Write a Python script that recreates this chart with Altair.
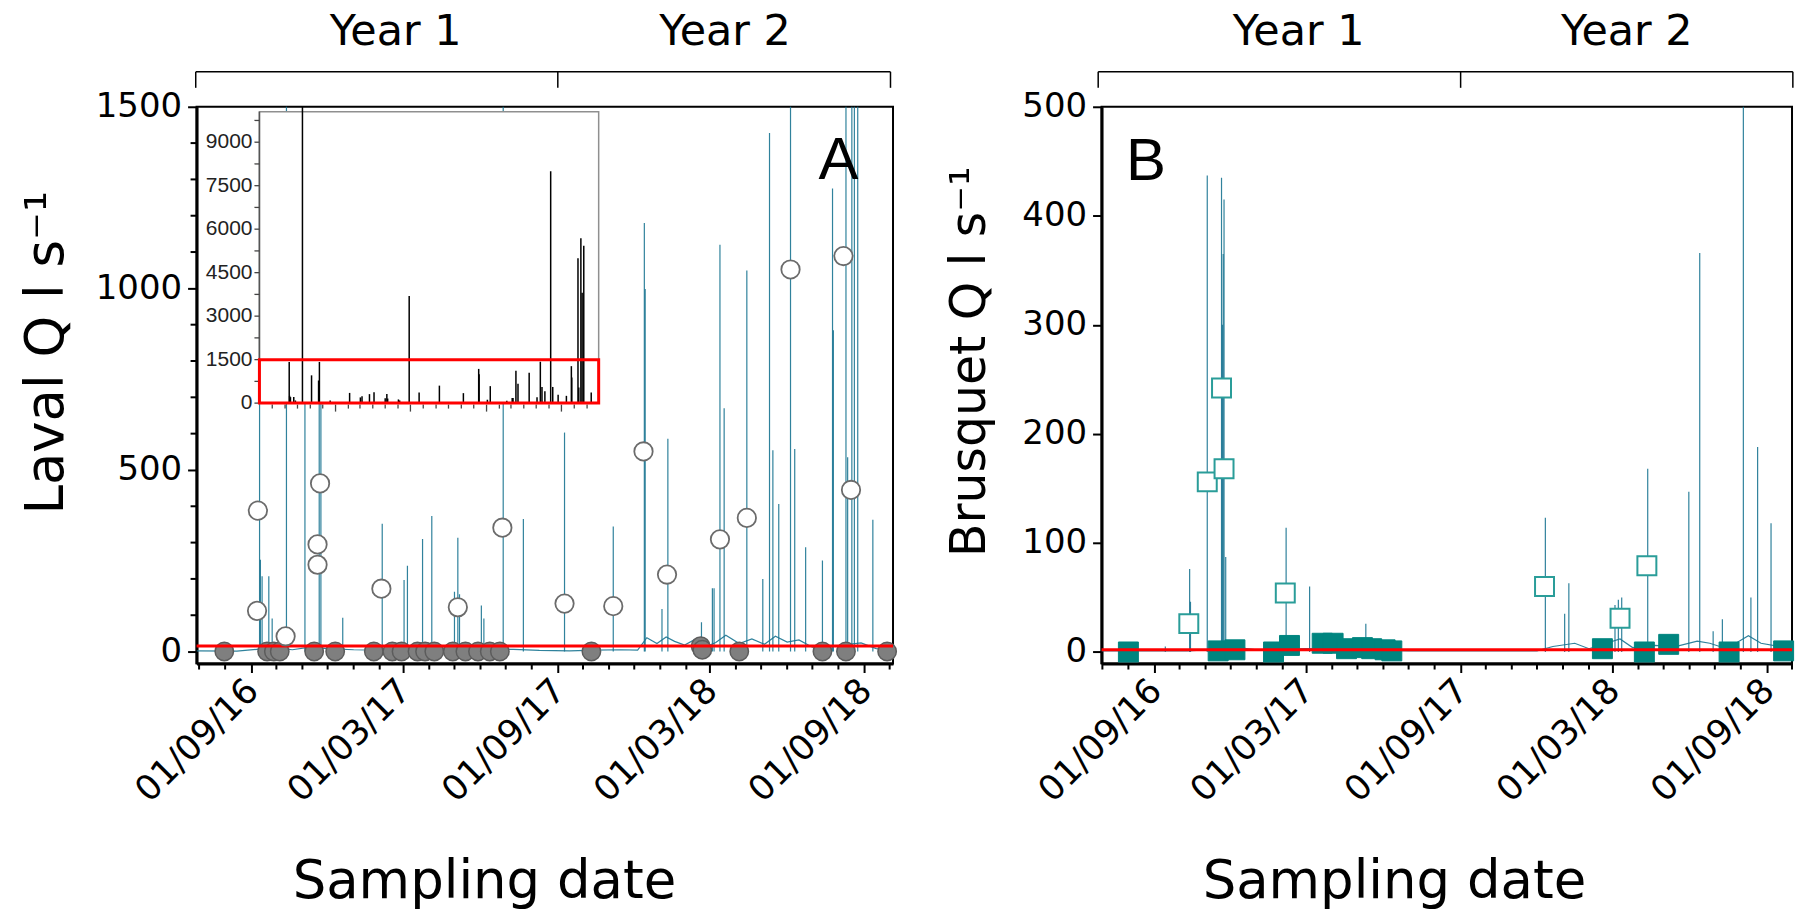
import altair as alt
import pandas as pd

# ---------------- Panel A : Laval ----------------
laval_spike_dates = ['2016-09-11', '2016-09-12', '2016-09-14', '2016-09-22', '2016-09-26', '2016-10-13',
                     '2016-11-04', '2016-11-21', '2016-11-23', '2016-12-19', '2017-02-04', '2017-03-02',
                     '2017-03-06', '2017-03-24', '2017-04-04', '2017-05-01', '2017-05-05', '2017-05-07',
                     '2017-06-02', '2017-06-05', '2017-06-28', '2017-07-22', '2017-09-09', '2017-11-06',
                     '2017-12-13', '2017-12-14', '2018-01-03', '2018-01-10', '2018-02-19', '2018-03-04',
                     '2018-03-06', '2018-03-13', '2018-03-18', '2018-04-14', '2018-05-03', '2018-05-11',
                     '2018-05-15', '2018-05-22', '2018-06-05', '2018-06-10', '2018-06-23', '2018-07-13',
                     '2018-07-25', '2018-07-26', '2018-08-10', '2018-08-12', '2018-08-17', '2018-08-20',
                     '2018-08-24', '2018-09-11']
laval_spike_q = [1420, 253, 207, 207, 91, 10500,
                 958, 780, 1420, 93, 352, 197,
                 236, 310, 373, 165, 313, 158,
                 127, 91, 3693, 365, 603, 344,
                 1180, 998, 117, 586, 81, 174,
                 174, 1120, 670, 1049, 200, 1428,
                 554, 406, 7997, 558, 287, 251,
                 1275, 885, 4997, 535, 5689, 3808,
                 5424, 363]

laval_base_dates = ['2016-06-28', '2016-08-15', '2016-09-08', '2016-09-30', '2016-10-20', '2016-11-10',
                    '2016-12-01', '2017-01-01', '2017-02-01', '2017-03-10', '2017-04-10', '2017-05-10',
                    '2017-06-10', '2017-07-10', '2017-08-10', '2017-09-15', '2017-10-15', '2017-11-15',
                    '2017-12-05', '2017-12-16', '2017-12-28', '2018-01-08', '2018-01-18', '2018-01-30',
                    '2018-02-10', '2018-02-25', '2018-03-08', '2018-03-20', '2018-04-05', '2018-04-20',
                    '2018-05-05', '2018-05-18', '2018-06-01', '2018-06-15', '2018-07-01', '2018-07-18',
                    '2018-08-05', '2018-08-28', '2018-09-15', '2018-10-05']
laval_base_q = [2, 1, 6, 10, 5, 12, 8, 5, 4, 9, 10, 7, 5, 6, 3, 2, 4, 5, 4, 38,
                22, 40, 28, 18, 32, 14, 25, 45, 22, 35, 20, 42, 26, 32, 12, 10, 18, 24, 8, 4]

laval_open_dates = ['2016-09-09', '2016-09-08', '2016-10-12', '2016-11-22', '2016-11-19', '2016-11-19',
                    '2017-02-03', '2017-05-05', '2017-06-27', '2017-09-09', '2017-11-06', '2017-12-12',
                    '2018-01-09', '2018-03-13', '2018-04-14', '2018-06-05', '2018-08-07', '2018-08-16']
laval_open_q = [388, 112, 42, 463, 295, 239, 173, 122, 341, 132, 125, 551, 212, 309, 368, 1052, 1089, 445]

laval_low_dates = ['2016-07-31', '2016-09-20', '2016-09-28', '2016-10-05', '2016-11-15', '2016-12-10',
                   '2017-01-25', '2017-02-16', '2017-02-27', '2017-03-18', '2017-03-27', '2017-04-07',
                   '2017-04-29', '2017-05-14', '2017-05-29', '2017-06-12', '2017-06-24', '2017-10-11',
                   '2018-02-18', '2018-02-20', '2018-04-05', '2018-07-13', '2018-08-10', '2018-09-28']
laval_low_q = [0, 0, 0, 0, 0, 0, 0, 0, 0, 0, 0, 0, 0, 0, 0, 0, 0, 0, 15, 5, 0, 0, 0, 0]
laval_threshold = [15]

# ---------------- Panel B : Brusquet ----------------
brusquet_spike_dates = ['2016-09-14', '2016-10-13', '2016-10-14', '2016-11-03', '2016-11-20', '2016-11-21',
                        '2016-11-22', '2016-11-23', '2016-11-25', '2017-02-05', '2017-03-05', '2017-05-11',
                        '2017-12-11', '2018-01-03', '2018-01-08', '2018-03-04', '2018-03-08', '2018-03-12',
                        '2018-04-12', '2018-05-31', '2018-06-13', '2018-06-29', '2018-07-10', '2018-08-04',
                        '2018-08-13', '2018-08-21', '2018-09-06']
brusquet_spike_q = [5, 76, 46, 437, 435, 300, 365, 415, 87, 114, 60, 26, 123, 35, 63, 43, 48, 50,
                    168, 147, 366, 19, 30, 520, 50, 188, 118]

brusquet_base_dates = ['2016-06-30', '2016-09-01', '2016-10-10', '2016-11-01', '2016-12-01', '2017-01-01',
                       '2017-03-01', '2017-05-01', '2017-07-01', '2017-12-01', '2017-12-20', '2018-01-15',
                       '2018-02-01', '2018-03-10', '2018-03-25', '2018-04-20', '2018-05-15', '2018-06-10',
                       '2018-06-25', '2018-07-15', '2018-08-10', '2018-08-25', '2018-10-01']
brusquet_base_q = [1, 1, 1, 2, 5, 2, 3, 2, 1, 1, 5, 8, 3, 12, 4, 6, 5, 10, 8, 3, 15, 8, 3]

brusquet_open_dates = ['2016-10-12', '2016-11-03', '2016-11-20', '2016-11-23', '2017-02-04', '2017-12-10',
                       '2018-03-10', '2018-04-11']
brusquet_open_q = [26, 156, 242, 168, 54, 60, 31, 79]

brusquet_low_dates = ['2016-08-01', '2016-11-16', '2016-12-06', '2017-01-21', '2017-02-09', '2017-03-20',
                      '2017-04-02', '2017-04-18', '2017-05-07', '2017-05-18', '2017-06-03', '2017-06-11',
                      '2018-02-17', '2018-04-08', '2018-05-07', '2018-07-18', '2018-09-21']
brusquet_low_q = [0, 1, 2, 0, 6, 8, 8, 3, 4, 3, 2, 1, 3, 0, 7, 0, 1]
brusquet_threshold = [2]

# ---------------- axes / annotation values ----------------
major_tick_dates = ['2016-09-01', '2017-03-01', '2017-09-01', '2018-03-01', '2018-09-01']
minor_tick_dates = ['2016-07-01', '2016-08-01', '2016-10-01', '2016-11-01', '2016-12-01', '2017-01-01',
                    '2017-02-01', '2017-04-01', '2017-05-01', '2017-06-01', '2017-07-01', '2017-08-01',
                    '2017-10-01', '2017-11-01', '2017-12-01', '2018-01-01', '2018-02-01', '2018-04-01',
                    '2018-05-01', '2018-06-01', '2018-07-01', '2018-08-01', '2018-10-01']
laval_y_ticks = [0, 500, 1000, 1500]
laval_y_minor = [100, 200, 300, 400, 600, 700, 800, 900, 1100, 1200, 1300, 1400]
brusquet_y_ticks = [0, 100, 200, 300, 400, 500]

year_labels = ['Year 1', 'Year 2']
laval_year_dates = ['2017-02-20', '2018-03-19']
brusquet_year_dates = ['2017-02-20', '2018-03-18']
laval_bracket_dates = ['2016-06-27', '2017-09-01', '2018-10-02']
brusquet_bracket_dates = ['2016-06-26', '2017-09-01', '2018-10-02']

laval_domain_x = ['2016-06-28', '2018-10-05']
laval_domain_y = [-33, 1500]
brusquet_domain_x = ['2016-06-30', '2018-10-01']
brusquet_domain_y = [-10.6, 500]

# inset (full-range Laval hydrograph)
inset_domain_x = ['2016-07-01', '2018-09-29']
inset_domain_y = [0, 10050]
inset_y_major = [0, 1500, 3000, 4500, 6000, 7500, 9000]
inset_y_minor = [750, 2250, 3750, 5250, 6750, 8250, 9750]
inset_x_major = ['2017-01-01', '2017-07-01', '2018-01-01', '2018-07-01']
inset_x_minor = ['2016-08-01', '2016-09-01', '2016-10-01', '2016-11-01', '2016-12-01', '2017-02-01',
                 '2017-03-01', '2017-04-01', '2017-05-01', '2017-06-01', '2017-08-01', '2017-09-01',
                 '2017-10-01', '2017-11-01', '2017-12-01', '2018-02-01', '2018-03-01', '2018-04-01',
                 '2018-05-01', '2018-06-01', '2018-08-01', '2018-09-01']
inset_zoom_box = [0, 1500]

# panel letters (data coordinates)
letter_A = ('2018-08-01', 1300)
letter_B = ('2016-08-22', 433)

# ---------------- styling ----------------
A_W, A_H = 698, 558
B_W, B_H = 692, 558
INSET_RANGE_X = [63, 403]
INSET_RANGE_Y = [297, 5]
LINE = '#1a7491'
FONT = 'DejaVu Sans'


def dt(s):
    y, m, d = (int(v) for v in s.split('-'))
    return alt.DateTime(year=y, month=m, date=d, utc=True)


def xscale(dom, rng=None):
    kw = dict(type='utc', domain=[dt(dom[0]), dt(dom[1])], nice=False)
    if rng is not None:
        kw['range'] = rng
    return alt.Scale(**kw)


def x_axis(title_x):
    return alt.Axis(values=[dt(d) for d in major_tick_dates],
                    labelExpr="utcFormat(datum.value, '%d/%m/%y')",
                    labelAngle=315, labelAlign='right', labelBaseline='top', labelOffset=-11,
                    labelPadding=0, labelFont=FONT, labelFontSize=35, labelColor='black',
                    labelLimit=0, labelOverlap=False, labelFlush=False, tickSize=9, tickWidth=2,
                    tickColor='black', domainWidth=3, domainColor='black', grid=False,
                    title='Sampling date', titleFont=FONT, titleFontSize=53, titleFontWeight='normal',
                    titleColor='black', titleX=title_x, titleY=234, titleAlign='center',
                    titleBaseline='alphabetic')


def y_axis(values, title, title_x, title_y, title_size):
    return alt.Axis(values=values, format='d', labelFont=FONT, labelFontSize=34, labelColor='black',
                    labelPadding=6, labelFlush=False, labelOverlap=False, tickSize=9, tickWidth=2,
                    tickColor='black', domainWidth=3, domainColor='black', grid=False,
                    title=title, titleFont=FONT, titleFontSize=title_size, titleFontWeight='normal',
                    titleColor='black', titleAngle=270, titleX=title_x, titleY=title_y,
                    titleAlign='center', titleBaseline='alphabetic')


def main_panel(spk_d, spk_q, base_d, base_q, open_d, open_q, low_d, low_q, thr, dom_x, dom_y,
               yticks, yminor, ytitle, ytitle_x, ytitle_y, ytitle_size, xtitle_x, bracket_d, year_d,
               letter, letter_text, H, marker):
    xs = xscale(dom_x)
    ys = alt.Scale(domain=dom_y, nice=False, zero=False)
    xax = x_axis(xtitle_x)
    yax = y_axis(yticks, ytitle, ytitle_x, ytitle_y, ytitle_size)
    X = lambda f: alt.X(f, type='temporal', scale=xs, axis=xax)
    Y = lambda f: alt.Y(f, type='quantitative', scale=ys, axis=yax)

    base = alt.Chart(pd.DataFrame({'date': base_d, 'q': base_q})).mark_line(
        color=LINE, strokeWidth=1.2, opacity=0.9, clip=True).encode(x=X('date'), y=Y('q'))
    spikes = alt.Chart(pd.DataFrame({'date': spk_d, 'q': spk_q})).mark_rule(
        color=LINE, strokeWidth=1.2, opacity=0.9, clip=True).encode(
        x=X('date'), y=Y('q'), y2=alt.datum(0))
    xminor = alt.Chart(pd.DataFrame({'date': minor_tick_dates})).mark_tick(
        orient='vertical', size=6, thickness=2, color='black', opacity=1).encode(
        x=X('date'), y=alt.value(H + 3))
    layers = [base, spikes, xminor]
    if yminor:
        yminor_l = alt.Chart(pd.DataFrame({'q': yminor})).mark_tick(
            orient='horizontal', size=6, thickness=2, color='black', opacity=1).encode(
            y=Y('q'), x=alt.value(-3))
        layers.append(yminor_l)

    if marker == 'circle':
        low = alt.Chart(pd.DataFrame({'date': low_d, 'q': low_q})).mark_point(
            shape='circle', filled=True, fill='#7f7f7f', stroke='#5c5c5c', strokeWidth=1.5,
            size=340, opacity=1).encode(x=X('date'), y=Y('q'))
        opn = alt.Chart(pd.DataFrame({'date': open_d, 'q': open_q})).mark_point(
            shape='circle', filled=True, fill='white', stroke='#6b6b6b', strokeWidth=1.8,
            size=340, opacity=1).encode(x=X('date'), y=Y('q'))
    else:
        low = alt.Chart(pd.DataFrame({'date': low_d, 'q': low_q})).mark_point(
            shape='square', filled=True, fill='#00857f', stroke='#00857f', strokeWidth=1,
            size=400, opacity=1).encode(x=X('date'), y=Y('q'))
        opn = alt.Chart(pd.DataFrame({'date': open_d, 'q': open_q})).mark_point(
            shape='square', filled=True, fill='white', stroke='#2a9d99', strokeWidth=2,
            size=361, opacity=1).encode(x=X('date'), y=Y('q'))
    red = alt.Chart(pd.DataFrame({'q': thr})).mark_rule(color='#ff0000', strokeWidth=3).encode(
        y=Y('q'))
    layers += [low, red, opn]

    bracket_h = alt.Chart(pd.DataFrame({'date': [bracket_d[0]], 'e': [bracket_d[-1]]})).mark_rule(
        color='black', strokeWidth=1.5, clip=False).encode(
        x=X('date'), x2=alt.X2('e'), y=alt.value(-35))
    bracket_v = alt.Chart(pd.DataFrame({'date': bracket_d})).mark_rule(
        color='black', strokeWidth=1.5, clip=False).encode(
        x=X('date'), y=alt.value(-35), y2=alt.value(-19))
    years = alt.Chart(pd.DataFrame({'date': year_d, 'label': year_labels})).mark_text(
        font=FONT, fontSize=43, color='black', align='center', baseline='alphabetic').encode(
        x=X('date'), y=alt.value(-61.7), text='label:N')
    let = alt.Chart(pd.DataFrame({'date': [letter[0]], 'q': [letter[1]], 'label': [letter_text]})).mark_text(
        font='Liberation Sans', fontSize=60, color='black', align='center', baseline='alphabetic').encode(
        x=X('date'), y=Y('q'), text='label:N')
    layers += [bracket_h, bracket_v, years, let]
    return alt.layer(*layers)


main_A = main_panel(laval_spike_dates, laval_spike_q, laval_base_dates, laval_base_q,
                    laval_open_dates, laval_open_q, laval_low_dates, laval_low_q, laval_threshold,
                    laval_domain_x, laval_domain_y, laval_y_ticks, laval_y_minor,
                    'Laval Q l s\u207b\u00b9', -134, 246, 53, 288, laval_bracket_dates, laval_year_dates,
                    letter_A, 'A', A_H, 'circle')

# ---- inset ----
ixs = xscale(inset_domain_x, INSET_RANGE_X)
iys = alt.Scale(domain=inset_domain_y, range=INSET_RANGE_Y, nice=False, zero=False)
IX = lambda f: alt.X(f, type='temporal', scale=ixs, axis=None)
IY = lambda f: alt.Y(f, type='quantitative', scale=iys, axis=None)

box_df = pd.DataFrame({'s': [inset_domain_x[0]], 'e': [inset_domain_x[1]],
                       'lo': [inset_domain_y[0]], 'hi': [inset_domain_y[1]],
                       'zlo': [inset_zoom_box[0]], 'zhi': [inset_zoom_box[1]]})
inset_bg = alt.Chart(box_df).mark_rect(fill='white', stroke='#8f8f8f', strokeWidth=1.5).encode(
    x=IX('s'), x2=alt.X2('e'), y=IY('lo'), y2=alt.Y2('hi'))
inset_spikes = alt.Chart(pd.DataFrame({'date': laval_spike_dates, 'q': laval_spike_q})).mark_rule(
    color='black', strokeWidth=1.5, clip=True).encode(x=IX('date'), y=IY('q'), y2=alt.datum(0))
inset_left = alt.Chart(box_df).mark_rule(color='#555555', strokeWidth=1.5).encode(
    x=IX('s'), y=IY('lo'), y2=alt.Y2('hi'))
inset_red = alt.Chart(box_df).mark_rect(fillOpacity=0, stroke='#ff0000', strokeWidth=3).encode(
    x=IX('s'), x2=alt.X2('e'), y=IY('zlo'), y2=alt.Y2('zhi'))
ytick_df = pd.DataFrame({'s': [inset_domain_x[0]] * (len(inset_y_major) + len(inset_y_minor)),
                         'v': inset_y_major + inset_y_minor})
inset_yticks = alt.Chart(ytick_df).mark_tick(orient='horizontal', size=5, thickness=1.3,
                                             color='#444444', xOffset=-2.5, opacity=1).encode(
    x=IX('s'), y=IY('v'))
inset_ylabels = alt.Chart(pd.DataFrame({'s': [inset_domain_x[0]] * len(inset_y_major),
                                        'v': inset_y_major})).mark_text(
    align='right', baseline='middle', dx=-7, font='Liberation Sans Narrow, Liberation Sans',
    fontSize=21, color='#222222').encode(x=IX('s'), y=IY('v'), text=alt.Text('v:Q', format='d'))
inset_xminor = alt.Chart(pd.DataFrame({'date': inset_x_minor, 'z': [0] * len(inset_x_minor)})).mark_tick(
    orient='vertical', size=4, thickness=1.3, color='#444444', yOffset=3.5, opacity=1).encode(
    x=IX('date'), y=IY('z'))
inset_xmajor = alt.Chart(pd.DataFrame({'date': inset_x_major, 'z': [0] * len(inset_x_major)})).mark_tick(
    orient='vertical', size=7, thickness=1.3, color='#444444', yOffset=5, opacity=1).encode(
    x=IX('date'), y=IY('z'))
inset_A = alt.layer(inset_bg, inset_spikes, inset_left, inset_yticks, inset_ylabels,
                    inset_xminor, inset_xmajor, inset_red)

panel_A = alt.layer(main_A, inset_A).resolve_scale(x='independent', y='independent').properties(
    width=A_W, height=A_H)

panel_B = main_panel(brusquet_spike_dates, brusquet_spike_q, brusquet_base_dates, brusquet_base_q,
                     brusquet_open_dates, brusquet_open_q, brusquet_low_dates, brusquet_low_q,
                     brusquet_threshold, brusquet_domain_x, brusquet_domain_y, brusquet_y_ticks, [],
                     'Brusquet Q l s\u207b\u00b9', -117, 255, 49, 293, brusquet_bracket_dates,
                     brusquet_year_dates, letter_B, 'B', B_H, 'square').properties(width=B_W, height=B_H)

chart = alt.hconcat(panel_A, panel_B, spacing=209, bounds='flush').properties(
    padding={'left': 20, 'top': 9, 'right': 1, 'bottom': 0}, background='white'
).configure_view(stroke='black', strokeWidth=2)

chart.save('out.html', embed_options={'renderer': 'svg', 'actions': False})
